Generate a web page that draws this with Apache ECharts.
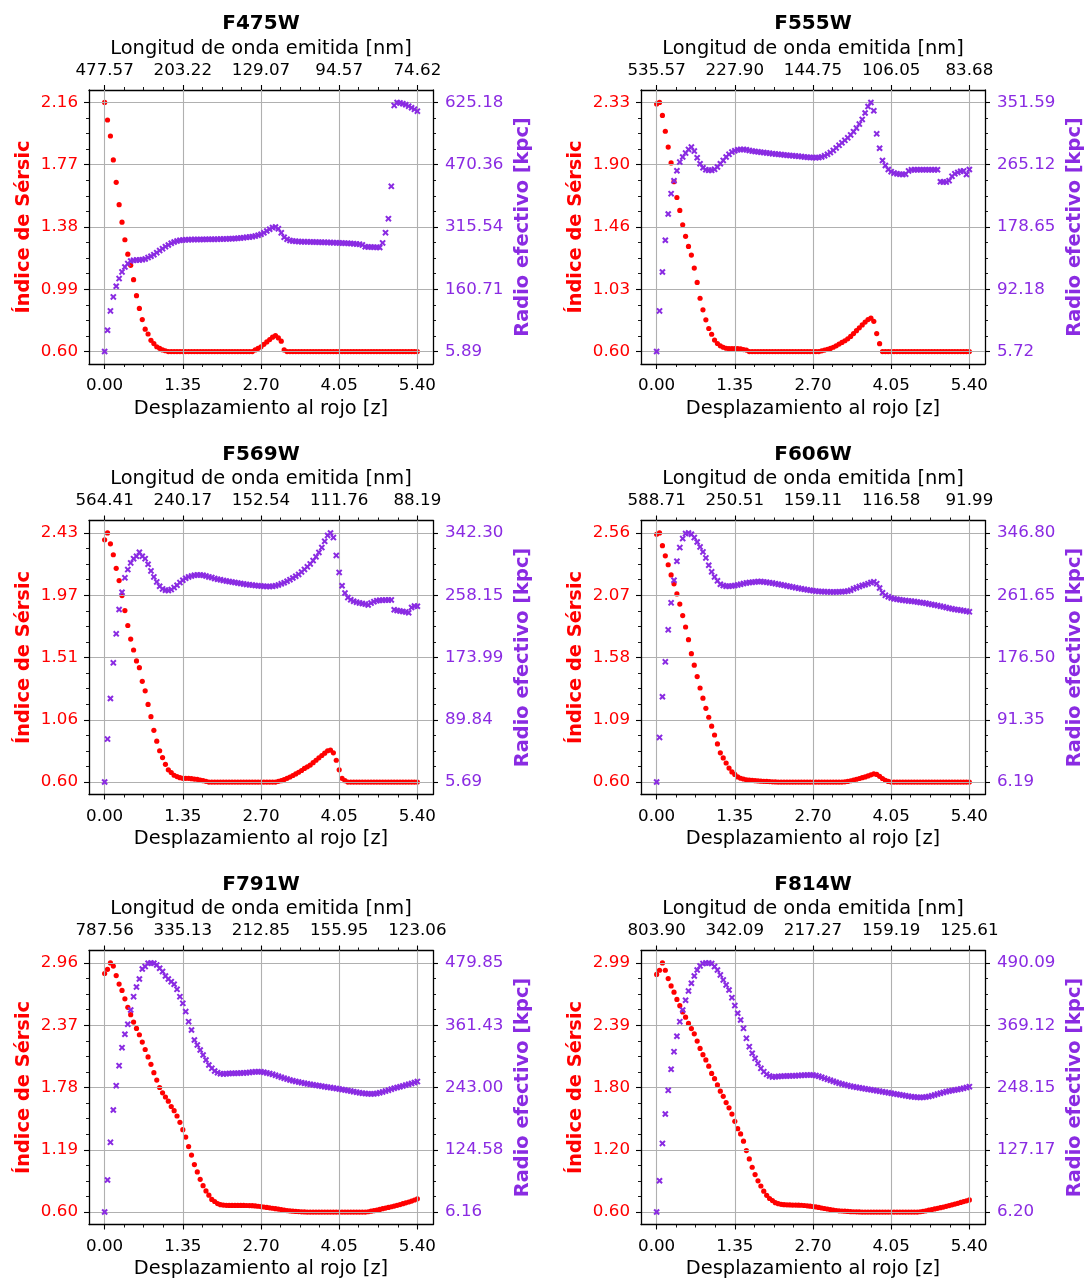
<!DOCTYPE html>
<html>
<head>
<meta charset="utf-8">
<script src="https://cdn.jsdelivr.net/npm/echarts@6/dist/echarts.min.js"></script>
<style>
  html, body { margin: 0; padding: 0; background: #ffffff; }
  #main { width: 1086px; height: 1282px; }
</style>
</head>
<body>
<div id="main"></div>
<script>
const filtros = ['F475W', 'F555W', 'F569W', 'F606W', 'F791W', 'F814W'];

// desplazamiento al rojo de cada punto
const redshift = [
  0, 0.05, 0.1, 0.15, 0.2, 0.25, 0.3, 0.35, 0.4, 0.45,
  0.5, 0.55, 0.6, 0.65, 0.7, 0.75, 0.8, 0.85, 0.9, 0.95,
  1, 1.05, 1.1, 1.15, 1.2, 1.25, 1.3, 1.35, 1.4, 1.45,
  1.5, 1.55, 1.6, 1.65, 1.7, 1.75, 1.8, 1.85, 1.9, 1.95,
  2, 2.05, 2.1, 2.15, 2.2, 2.25, 2.3, 2.35, 2.4, 2.45,
  2.5, 2.55, 2.6, 2.65, 2.7, 2.75, 2.8, 2.85, 2.9, 2.95,
  3, 3.05, 3.1, 3.15, 3.2, 3.25, 3.3, 3.35, 3.4, 3.45,
  3.5, 3.55, 3.6, 3.65, 3.7, 3.75, 3.8, 3.85, 3.9, 3.95,
  4, 4.05, 4.1, 4.15, 4.2, 4.25, 4.3, 4.35, 4.4, 4.45,
  4.5, 4.55, 4.6, 4.65, 4.7, 4.75, 4.8, 4.85, 4.9, 4.95,
  5, 5.05, 5.1, 5.15, 5.2, 5.25, 5.3, 5.35, 5.4
];

// indice de Sersic
const n475 = [
  2.16, 2.05, 1.95, 1.80, 1.66, 1.52, 1.41, 1.30, 1.21, 1.14,
  1.05, 0.95, 0.87, 0.80, 0.74, 0.71, 0.67, 0.65, 0.63, 0.62,
  0.61, 0.605, 0.60, 0.60, 0.60, 0.60, 0.60, 0.60, 0.60, 0.60,
  0.60, 0.60, 0.60, 0.60, 0.60, 0.60, 0.60, 0.60, 0.60, 0.60,
  0.60, 0.60, 0.60, 0.60, 0.60, 0.60, 0.60, 0.60, 0.60, 0.60,
  0.60, 0.60, 0.61, 0.62, 0.63, 0.645, 0.66, 0.675, 0.69, 0.70,
  0.685, 0.665, 0.61, 0.60, 0.60, 0.60, 0.60, 0.60, 0.60, 0.60,
  0.60, 0.60, 0.60, 0.60, 0.60, 0.60, 0.60, 0.60, 0.60, 0.60,
  0.60, 0.60, 0.60, 0.60, 0.60, 0.60, 0.60, 0.60, 0.60, 0.60,
  0.60, 0.60, 0.60, 0.60, 0.60, 0.60, 0.60, 0.60, 0.60, 0.60,
  0.60, 0.60, 0.60, 0.60, 0.60, 0.60, 0.60, 0.60, 0.60
];
const n555 = [
  2.32, 2.33, 2.24, 2.13, 2.02, 1.91, 1.78, 1.67, 1.58, 1.48,
  1.40, 1.33, 1.27, 1.18, 1.08, 0.97, 0.89, 0.82, 0.76, 0.72,
  0.68, 0.656, 0.64, 0.63, 0.623, 0.62, 0.62, 0.62, 0.62, 0.618,
  0.614, 0.61, 0.60, 0.60, 0.60, 0.60, 0.60, 0.60, 0.60, 0.60,
  0.60, 0.60, 0.60, 0.60, 0.60, 0.60, 0.60, 0.60, 0.60, 0.60,
  0.60, 0.60, 0.60, 0.60, 0.60, 0.60, 0.60, 0.605, 0.61, 0.615,
  0.622, 0.63, 0.64, 0.652, 0.663, 0.675, 0.688, 0.705, 0.725, 0.745,
  0.765, 0.785, 0.805, 0.822, 0.832, 0.81, 0.725, 0.655, 0.60, 0.60,
  0.60, 0.60, 0.60, 0.60, 0.60, 0.60, 0.60, 0.60, 0.60, 0.60,
  0.60, 0.60, 0.60, 0.60, 0.60, 0.60, 0.60, 0.60, 0.60, 0.60,
  0.60, 0.60, 0.60, 0.60, 0.60, 0.60, 0.60, 0.60, 0.60
];
const n569 = [
  2.38, 2.43, 2.35, 2.27, 2.17, 2.08, 1.97, 1.86, 1.75, 1.65,
  1.57, 1.49, 1.44, 1.34, 1.27, 1.17, 1.08, 0.98, 0.90, 0.83,
  0.78, 0.73, 0.69, 0.67, 0.65, 0.64, 0.632, 0.627, 0.627, 0.627,
  0.625, 0.622, 0.62, 0.615, 0.61, 0.605, 0.60, 0.60, 0.60, 0.60,
  0.60, 0.60, 0.60, 0.60, 0.60, 0.60, 0.60, 0.60, 0.60, 0.60,
  0.60, 0.60, 0.60, 0.60, 0.60, 0.60, 0.60, 0.60, 0.60, 0.60,
  0.605, 0.61, 0.618, 0.627, 0.637, 0.648, 0.66, 0.672, 0.685, 0.70,
  0.712, 0.725, 0.742, 0.76, 0.778, 0.795, 0.812, 0.83, 0.835, 0.815,
  0.76, 0.69, 0.627, 0.61, 0.60, 0.60, 0.60, 0.60, 0.60, 0.60,
  0.60, 0.60, 0.60, 0.60, 0.60, 0.60, 0.60, 0.60, 0.60, 0.60,
  0.60, 0.60, 0.60, 0.60, 0.60, 0.60, 0.60, 0.60, 0.60
];
const n606 = [
  2.55, 2.56, 2.46, 2.38, 2.31, 2.23, 2.16, 2.08, 2.00, 1.91,
  1.82, 1.72, 1.61, 1.52, 1.43, 1.34, 1.26, 1.18, 1.11, 1.04,
  0.97, 0.90, 0.83, 0.79, 0.75, 0.71, 0.68, 0.66, 0.64, 0.63,
  0.624, 0.618, 0.616, 0.613, 0.611, 0.609, 0.607, 0.606, 0.605, 0.604,
  0.602, 0.601, 0.60, 0.60, 0.60, 0.60, 0.60, 0.60, 0.60, 0.60,
  0.60, 0.60, 0.60, 0.60, 0.60, 0.60, 0.60, 0.60, 0.60, 0.60,
  0.60, 0.60, 0.60, 0.60, 0.60, 0.602, 0.605, 0.61, 0.616, 0.622,
  0.628, 0.634, 0.64, 0.648, 0.657, 0.665, 0.66, 0.645, 0.628, 0.614,
  0.605, 0.60, 0.60, 0.60, 0.60, 0.60, 0.60, 0.60, 0.60, 0.60,
  0.60, 0.60, 0.60, 0.60, 0.60, 0.60, 0.60, 0.60, 0.60, 0.60,
  0.60, 0.60, 0.60, 0.60, 0.60, 0.60, 0.60, 0.60, 0.60
];
const n791 = [
  2.86, 2.90, 2.96, 2.93, 2.84, 2.76, 2.70, 2.62, 2.54, 2.47,
  2.40, 2.34, 2.28, 2.21, 2.14, 2.07, 2.00, 1.92, 1.85, 1.78,
  1.73, 1.69, 1.65, 1.60, 1.56, 1.51, 1.45, 1.38, 1.31, 1.22,
  1.14, 1.05, 0.98, 0.91, 0.85, 0.80, 0.76, 0.72, 0.70, 0.68,
  0.67, 0.666, 0.664, 0.663, 0.663, 0.663, 0.663, 0.663, 0.663, 0.662,
  0.661, 0.66, 0.658, 0.655, 0.652, 0.648, 0.644, 0.64, 0.636, 0.632,
  0.628, 0.623, 0.618, 0.614, 0.611, 0.608, 0.606, 0.604, 0.602, 0.601,
  0.60, 0.60, 0.60, 0.60, 0.60, 0.60, 0.60, 0.60, 0.60, 0.60,
  0.60, 0.60, 0.60, 0.60, 0.60, 0.60, 0.60, 0.60, 0.60, 0.60,
  0.60, 0.603, 0.608, 0.613, 0.619, 0.625, 0.632, 0.638, 0.644, 0.650,
  0.657, 0.664, 0.671, 0.679, 0.687, 0.695, 0.704, 0.714, 0.725
];
const n814 = [
  2.88, 2.92, 2.99, 2.92, 2.84, 2.77, 2.71, 2.64, 2.58, 2.52,
  2.47, 2.41, 2.36, 2.31, 2.24, 2.17, 2.11, 2.06, 2.00, 1.93,
  1.88, 1.82, 1.76, 1.71, 1.65, 1.60, 1.54, 1.47, 1.40, 1.35,
  1.28, 1.19, 1.11, 1.03, 0.96, 0.90, 0.85, 0.80, 0.76, 0.73,
  0.71, 0.69, 0.68, 0.674, 0.671, 0.669, 0.668, 0.667, 0.667, 0.666,
  0.665, 0.663, 0.66, 0.656, 0.653, 0.649, 0.644, 0.639, 0.634, 0.629,
  0.624, 0.619, 0.615, 0.612, 0.61, 0.608, 0.606, 0.604, 0.603, 0.602,
  0.601, 0.60, 0.60, 0.60, 0.60, 0.60, 0.60, 0.60, 0.60, 0.60,
  0.60, 0.60, 0.60, 0.60, 0.60, 0.60, 0.60, 0.60, 0.60, 0.60,
  0.60, 0.603, 0.607, 0.612, 0.618, 0.624, 0.630, 0.636, 0.642, 0.648,
  0.655, 0.662, 0.669, 0.676, 0.684, 0.692, 0.700, 0.708, 0.716
];

// radio efectivo [kpc]
const r475 = [
  5.89, 58.9, 106.9, 141.7, 168.2, 187.2, 203.8, 216.2, 224.5, 231.1,
  232.7, 233.5, 233.5, 234.3, 236.1, 239.4, 242.7, 246.8, 251.8, 256.8,
  261.7, 266.7, 270.8, 275.0, 278.3, 280.8, 282.4, 283.3, 283.8, 284.1,
  284.3, 284.4, 284.5, 284.6, 284.7, 284.8, 284.9, 285.0, 285.1, 285.3,
  285.5, 285.7, 285.9, 286.2, 286.6, 287.0, 287.5, 288.2, 289.0, 289.8,
  290.5, 291.5, 293.0, 295.0, 297.5, 301.0, 305.5, 310.0, 314.0, 315.6,
  311.0, 301.0, 290.0, 285.0, 282.0, 280.5, 279.8, 279.3, 279.0, 278.8,
  278.6, 278.4, 278.2, 278.0, 277.8, 277.6, 277.4, 277.2, 276.9, 276.6,
  276.3, 276.0, 275.7, 275.4, 275.0, 274.5, 274.0, 273.4, 272.8, 271.0,
  266.5, 265.8, 265.8, 265.5, 265.0, 264.5, 276.0, 301.5, 336.3, 416.6,
  617.8, 625.18, 624.0, 622.0, 619.5, 616.0, 612.0, 608.0, 603.6
];
const r555 = [
  5.72, 62.1, 116.2, 160.2, 196.7, 224.9, 242.9, 256.8, 268.8, 275.8,
  281.3, 286.4, 289.6, 284.1, 274.8, 266.5, 261.0, 258.2, 257.3, 257.3,
  258.7, 261.9, 266.5, 271.1, 275.8, 279.5, 282.7, 284.6, 285.9, 286.4,
  286.4, 285.9, 285.0, 284.1, 283.5, 283.0, 282.5, 282.0, 281.5, 281.0,
  280.5, 280.0, 279.6, 279.2, 278.8, 278.4, 278.0, 277.6, 277.2, 276.8,
  276.4, 276.0, 275.6, 275.3, 275.0, 274.9, 275.2, 276.0, 277.5, 279.5,
  282.0, 285.0, 288.5, 292.0, 295.5, 299.0, 302.5, 306.5, 311.0, 316.0,
  321.5, 328.0, 337.0, 346.0, 351.59, 340.0, 308.0, 288.0, 271.0, 264.0,
  258.5, 255.5, 253.5, 252.5, 252.0, 251.7, 252.0, 256.5, 258.0, 258.2,
  258.2, 258.2, 258.2, 258.2, 258.2, 258.2, 258.2, 258.2, 241.5, 241.3,
  241.0, 243.0, 249.0, 252.5, 254.5, 256.0, 256.5, 251.5, 258.5
];
const r569 = [
  5.69, 63.7, 118.6, 166.8, 206.0, 238.8, 262.2, 281.6, 292.8, 301.8,
  307.6, 310.8, 316.2, 310.8, 307.6, 300.0, 291.0, 282.9, 276.1, 270.3,
  266.7, 264.9, 264.4, 265.8, 268.5, 271.6, 275.2, 278.4, 281.1, 282.9,
  284.2, 285.1, 285.6, 285.6, 285.1, 284.2, 282.9, 282.0, 280.6, 279.8,
  279.0, 278.2, 277.4, 276.7, 276.0, 275.3, 274.6, 274.0, 273.4, 272.8,
  272.3, 271.8, 271.3, 270.9, 270.6, 270.3, 270.1, 270.0, 270.2, 270.8,
  272.0, 273.5, 275.0, 277.0, 279.2, 281.5, 283.8, 286.3, 289.5, 293.0,
  296.5, 300.5, 305.0, 310.0, 316.0, 322.5, 331.0, 339.0, 342.3, 336.0,
  312.0, 289.0, 271.0, 261.0, 255.0, 252.0, 250.0, 248.8, 247.8, 247.0,
  246.2, 245.0, 247.5, 249.5, 250.8, 251.3, 251.5, 251.6, 251.7, 251.8,
  238.5, 237.5, 236.8, 236.2, 235.6, 234.5, 241.5, 243.5, 243.3
];
const r606 = [
  6.19, 67.2, 122.8, 170.6, 214.3, 251.2, 282.2, 308.1, 326.8, 339.1,
  345.9, 346.8, 345.0, 340.5, 334.5, 327.7, 320.9, 312.7, 302.7, 293.6,
  286.7, 281.3, 276.7, 274.9, 274.0, 274.0, 274.4, 274.9, 275.8, 276.7,
  277.6, 278.5, 279.0, 279.4, 279.9, 280.3, 280.3, 279.9, 279.4, 278.8,
  278.2, 277.5, 276.8, 276.0, 275.2, 274.4, 273.6, 272.8, 272.0, 271.2,
  270.4, 269.7, 269.0, 268.4, 267.8, 267.3, 266.9, 266.6, 266.4, 266.3,
  266.2, 266.2, 266.2, 266.3, 266.4, 266.7, 267.3, 268.5, 270.5, 272.0,
  273.5, 275.0, 276.0, 277.5, 279.0, 280.0, 277.5, 271.5, 265.0, 261.5,
  259.4, 258.0, 256.8, 256.0, 255.4, 254.8, 254.3, 253.9, 253.5, 253.0,
  252.4, 251.8, 251.2, 250.6, 249.8, 249.0, 248.3, 247.5, 246.7, 245.8,
  244.8, 243.8, 243.0, 242.3, 241.7, 241.2, 240.5, 239.7, 238.9
];
const r791 = [
  6.16, 67.0, 138.7, 200.2, 246.5, 284.5, 318.8, 344.2, 363.2, 390.4,
  415.8, 434.2, 449.4, 468.4, 472.9, 479.2, 479.85, 479.2, 476.0, 469.7,
  463.4, 455.1, 449.4, 444.3, 439.3, 429.7, 415.8, 403.1, 387.3, 368.2,
  352.4, 333.4, 323.9, 314.3, 304.8, 295.3, 285.8, 279.5, 274.4, 271.2,
  269.3, 268.7, 269.3, 269.6, 269.9, 270.1, 270.3, 270.5, 270.8, 271.2,
  271.7, 272.3, 272.8, 273.0, 272.8, 272.0, 270.8, 269.5, 268.0, 266.3,
  264.5, 262.6, 260.8, 259.0, 257.3, 255.9, 254.6, 253.4, 252.2, 251.0,
  250.0, 249.0, 248.0, 247.1, 246.3, 245.5, 244.6, 243.7, 242.8, 241.9,
  241.0, 240.1, 239.2, 238.2, 237.2, 236.2, 235.1, 234.1, 233.1, 232.2,
  231.5, 231.0, 230.8, 231.0, 231.8, 233.0, 234.5, 236.2, 238.0, 239.8,
  241.5, 243.0, 244.5, 246.0, 247.6, 249.2, 250.8, 252.5, 254.3
];
const r814 = [
  6.20, 67.1, 139.6, 196.7, 242.6, 283.5, 317.8, 347.6, 376.1, 398.8,
  417.6, 435.7, 450.6, 464.8, 476.5, 484.3, 488.8, 490.09, 490.0, 488.8,
  483.0, 476.5, 466.8, 457.1, 447.4, 437.6, 422.7, 407.2, 392.3, 379.3,
  363.1, 343.7, 327.5, 314.6, 304.8, 295.1, 285.4, 278.9, 273.7, 270.5,
  268.6, 269.2, 269.6, 270.0, 270.3, 270.5, 270.6, 270.8, 271.0, 271.3,
  271.7, 272.1, 272.4, 272.5, 272.2, 271.3, 269.8, 268.0, 266.0, 264.0,
  262.2, 260.3, 258.4, 256.6, 255.0, 253.4, 252.0, 250.7, 249.6, 248.6,
  247.6, 246.6, 245.6, 244.6, 243.7, 242.8, 241.9, 241.0, 240.1, 239.1,
  238.1, 237.1, 236.1, 235.0, 234.0, 233.0, 232.0, 231.1, 230.3, 229.6,
  229.1, 228.9, 229.0, 229.6, 230.6, 232.0, 233.6, 235.3, 237.0, 238.6,
  240.0, 241.2, 242.3, 243.3, 244.3, 245.4, 246.7, 248.2, 249.8
];

// marcas del eje x (abajo y arriba)
const zTicks = [0, 1.35, 2.7, 4.05, 5.4];
const zTickLabels = ['0.00', '1.35', '2.70', '4.05', '5.40'];
const zMinor = [0.3375, 0.675, 1.0125, 1.6875, 2.025, 2.3625, 3.0375, 3.375, 3.7125, 4.3875, 4.725, 5.0625];

// longitud de onda emitida en las marcas de arriba
const lam475 = ['477.57', '203.22', '129.07', '94.57', '74.62'];
const lam555 = ['535.57', '227.90', '144.75', '106.05', '83.68'];
const lam569 = ['564.41', '240.17', '152.54', '111.76', '88.19'];
const lam606 = ['588.71', '250.51', '159.11', '116.58', '91.99'];
const lam791 = ['787.56', '335.13', '212.85', '155.95', '123.06'];
const lam814 = ['803.90', '342.09', '217.27', '159.19', '125.61'];

// etiquetas de los ejes y (de abajo a arriba)
const ns475 = ['0.60', '0.99', '1.38', '1.77', '2.16'];
const ns555 = ['0.60', '1.03', '1.46', '1.90', '2.33'];
const ns569 = ['0.60', '1.06', '1.51', '1.97', '2.43'];
const ns606 = ['0.60', '1.09', '1.58', '2.07', '2.56'];
const ns791 = ['0.60', '1.19', '1.78', '2.37', '2.96'];
const ns814 = ['0.60', '1.20', '1.80', '2.39', '2.99'];
const rs475 = ['5.89', '160.71', '315.54', '470.36', '625.18'];
const rs555 = ['5.72', '92.18', '178.65', '265.12', '351.59'];
const rs569 = ['5.69', '89.84', '173.99', '258.15', '342.30'];
const rs606 = ['6.19', '91.35', '176.50', '261.65', '346.80'];
const rs791 = ['6.16', '124.58', '243.00', '361.43', '479.85'];
const rs814 = ['6.20', '127.17', '248.15', '369.12', '490.09'];

const sersic = [n475, n555, n569, n606, n791, n814];
const radio = [r475, r555, r569, r606, r791, r814];
const lamLabels = [lam475, lam555, lam569, lam606, lam791, lam814];
const sersicLabels = [ns475, ns555, ns569, ns606, ns791, ns814];
const radioLabels = [rs475, rs555, rs569, rs606, rs791, rs814];

const ROJO = '#ff0000';
const MORADO = '#8a2be2';
const FONT = 'DejaVu Sans';
const gridLeft = [89, 641];
const gridTop = [90, 520.5, 950.5];
const gridW = 344, gridH = 274;
const zMin = -0.27, zMax = 5.67;
const cruz = 'path://M0,2.2 L2.2,0 L5,2.8 L7.8,0 L10,2.2 L7.2,5 L10,7.8 L7.8,10 L5,7.2 L2.2,10 L0,7.8 L2.8,5 Z';

function pickLabel(values, labels) {
  return function (v) {
    for (let i = 0; i < values.length; i++) {
      if (Math.abs(values[i] - v) < 1e-9) return labels[i];
    }
    return '';
  };
}

// 5 marcas repartidas entre el minimo y el maximo, como en matplotlib
function linspace5(lo, hi) {
  const out = [];
  for (let i = 0; i < 5; i++) out.push(lo + (hi - lo) * i / 4);
  return out;
}
function minors(major) {
  const out = [];
  for (let i = 0; i < major.length - 1; i++) {
    const step = (major[i + 1] - major[i]) / 4;
    out.push(major[i] + step, major[i] + 2 * step, major[i] + 3 * step);
  }
  return out;
}

const grids = [], xAxes = [], yAxes = [], series = [], graphics = [];

filtros.forEach(function (f, p) {
  const col = p % 2, row = Math.floor(p / 2);
  grids.push({
    left: gridLeft[col], top: gridTop[row], width: gridW, height: gridH,
    containLabel: false, outerBoundsMode: 'none'
  });

  const lineStyle = { color: '#000', width: 1.3 };
  const gridLine = { show: true, lineStyle: { color: '#b0b0b0', width: 1.1 } };

  // eje x abajo
  xAxes.push({
    gridIndex: p, type: 'value', position: 'bottom', min: zMin, max: zMax, z: 3,
    axisLine: { show: true, onZero: false, lineStyle: lineStyle },
    axisTick: { show: true, customValues: zTicks, length: 5, lineStyle: { color: '#000', width: 1.1 } },
    axisLabel: { customValues: zTicks, formatter: pickLabel(zTicks, zTickLabels), fontSize: 16.7, fontFamily: FONT, color: '#000', margin: 13.5 },
    splitLine: gridLine,
    name: 'Desplazamiento al rojo [z]', nameLocation: 'middle', nameGap: 35, nameMoveOverlap: false,
    nameTextStyle: { fontSize: 19.4, fontFamily: FONT, color: '#000' }
  });
  xAxes.push({
    gridIndex: p, type: 'value', position: 'bottom', min: zMin, max: zMax,
    axisLine: { show: false, onZero: false },
    axisTick: { show: true, customValues: zMinor, length: 3, lineStyle: { color: '#000', width: 0.9 } },
    axisLabel: { show: false }, splitLine: { show: false }
  });
  // eje x arriba: longitud de onda emitida
  xAxes.push({
    gridIndex: p, type: 'value', position: 'top', min: zMin, max: zMax,
    axisLine: { show: true, onZero: false, lineStyle: lineStyle },
    axisTick: { show: true, customValues: zTicks, length: 5, lineStyle: { color: '#000', width: 1.1 } },
    axisLabel: { customValues: zTicks, formatter: pickLabel(zTicks, lamLabels[p]), fontSize: 16.7, fontFamily: FONT, color: '#000', margin: 11 },
    splitLine: { show: false },
    name: 'Longitud de onda emitida [nm]', nameLocation: 'middle', nameGap: 32, nameMoveOverlap: false,
    nameTextStyle: { fontSize: 19.4, fontFamily: FONT, color: '#000' }
  });
  xAxes.push({
    gridIndex: p, type: 'value', position: 'top', min: zMin, max: zMax,
    axisLine: { show: false, onZero: false },
    axisTick: { show: true, customValues: zMinor, length: 3, lineStyle: { color: '#000', width: 0.9 } },
    axisLabel: { show: false }, splitLine: { show: false }
  });

  // eje y izquierdo: indice de Sersic
  const nLo = Math.min.apply(null, sersic[p]), nHi = Math.max.apply(null, sersic[p]);
  const nPad = (nHi - nLo) * 0.05;
  const nTicks = linspace5(nLo, nHi);
  yAxes.push({
    gridIndex: p, type: 'value', position: 'left', min: nLo - nPad, max: nHi + nPad, z: 3,
    axisLine: { show: true, onZero: false, lineStyle: lineStyle },
    axisTick: { show: true, customValues: nTicks, length: 5, lineStyle: { color: '#000', width: 1.1 } },
    axisLabel: { customValues: nTicks, formatter: pickLabel(nTicks, sersicLabels[p]), fontSize: 16.7, fontFamily: FONT, color: ROJO, margin: 11 },
    splitLine: gridLine,
    name: 'Índice de Sérsic', nameLocation: 'middle', nameRotate: 90, nameGap: 56, nameMoveOverlap: false,
    nameTextStyle: { fontSize: 19.4, fontFamily: FONT, fontWeight: 'bold', color: ROJO }
  });
  yAxes.push({
    gridIndex: p, type: 'value', position: 'left', min: nLo - nPad, max: nHi + nPad,
    axisLine: { show: false, onZero: false },
    axisTick: { show: true, customValues: minors(nTicks), length: 3, lineStyle: { color: '#000', width: 0.9 } },
    axisLabel: { show: false }, splitLine: { show: false }
  });

  // eje y derecho: radio efectivo
  const rLo = Math.min.apply(null, radio[p]), rHi = Math.max.apply(null, radio[p]);
  const rPad = (rHi - rLo) * 0.05;
  const rTicks = linspace5(rLo, rHi);
  yAxes.push({
    gridIndex: p, type: 'value', position: 'right', min: rLo - rPad, max: rHi + rPad,
    axisLine: { show: true, onZero: false, lineStyle: lineStyle },
    axisTick: { show: true, customValues: rTicks, length: 5, lineStyle: { color: '#000', width: 1.1 } },
    axisLabel: { customValues: rTicks, formatter: pickLabel(rTicks, radioLabels[p]), fontSize: 16.7, fontFamily: FONT, color: MORADO, margin: 12 },
    splitLine: { show: false },
    name: 'Radio efectivo [kpc]', nameLocation: 'middle', nameRotate: 90, nameGap: 80, nameMoveOverlap: false,
    nameTextStyle: { fontSize: 19.4, fontFamily: FONT, fontWeight: 'bold', color: MORADO }
  });
  yAxes.push({
    gridIndex: p, type: 'value', position: 'right', min: rLo - rPad, max: rHi + rPad,
    axisLine: { show: false, onZero: false },
    axisTick: { show: true, customValues: minors(rTicks), length: 3, lineStyle: { color: '#000', width: 0.9 } },
    axisLabel: { show: false }, splitLine: { show: false }
  });

  series.push({
    type: 'scatter', name: f + ' n', xAxisIndex: 4 * p, yAxisIndex: 4 * p, z: 2,
    symbol: 'circle', symbolSize: 5.2, silent: true,
    itemStyle: { color: ROJO, opacity: 1 },
    data: redshift.map(function (z, i) { return [z, sersic[p][i]]; })
  });
  series.push({
    type: 'scatter', name: f + ' Re', xAxisIndex: 4 * p, yAxisIndex: 4 * p + 2, z: 4,
    symbol: cruz, symbolSize: 6.5, silent: true,
    itemStyle: { color: MORADO, opacity: 1 },
    data: redshift.map(function (z, i) { return [z, radio[p][i]]; })
  });

  graphics.push({
    type: 'text',
    x: gridLeft[col] + gridW / 2,
    y: gridTop[row] - 66,
    style: {
      text: f, font: 'bold 20px "DejaVu Sans"', fill: '#000',
      textAlign: 'center', align: 'center', textVerticalAlign: 'middle', verticalAlign: 'middle'
    }
  });
});

const chart = echarts.init(document.getElementById('main'), null, { width: 1086, height: 1282 });
chart.setOption({
  backgroundColor: '#ffffff',
  animation: false,
  grid: grids,
  xAxis: xAxes,
  yAxis: yAxes,
  series: series,
  graphic: graphics
});
</script>
</body>
</html>
